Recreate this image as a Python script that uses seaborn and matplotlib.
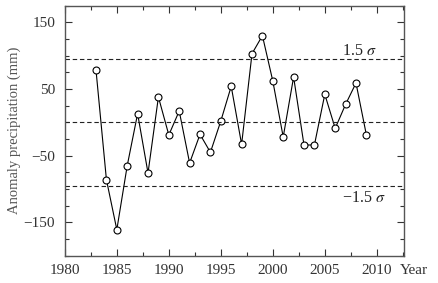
import numpy as np
import pandas as pd
import seaborn as sns
import matplotlib.pyplot as plt
from matplotlib.ticker import MultipleLocator, FixedLocator

years = list(range(1983, 2010))
anomaly = [78, -86, -161, -65, 13, -76, 38, -19, 17, -61, -18, -45, 2,
           54, -33, 103, 130, 62, -22, 68, -34, -34, 42, -9, 27, 59, -19]
sigma_lines = [95, 0, -95]
sigma_labels = ["1.5 $\\sigma$", "\u22121.5 $\\sigma$"]

df = pd.DataFrame({"year": years, "anomaly": anomaly})

sns.set_style("ticks")
plt.rcParams['font.family'] = ['Liberation Serif', 'DejaVu Serif']
plt.rcParams['mathtext.fontset'] = 'stix'

fig = plt.figure(figsize=(4.38, 2.83), dpi=100)
ax = fig.add_axes([0.148, 0.0965, 0.774, 0.8835])

sns.lineplot(data=df, x="year", y="anomaly", ax=ax, color="black", lw=0.8,
             marker="o", markersize=5, markerfacecolor="white",
             markeredgecolor="black", markeredgewidth=0.8)

for v in sigma_lines:
    ax.axhline(v, color="#222222", ls=(0, (4, 2.5)), lw=0.8)

ax.text(2006.7, 101, sigma_labels[0], fontsize=11.5, color="#222222")
ax.text(2006.7, -120, sigma_labels[1], fontsize=11.5, color="#222222")

ax.set_xlim(1980, 2012.6)
ax.set_ylim(-200, 175)
ax.xaxis.set_major_locator(MultipleLocator(5))
ax.xaxis.set_minor_locator(MultipleLocator(2.5))
ax.yaxis.set_major_locator(FixedLocator([-150, -50, 50, 150]))
ax.yaxis.set_minor_locator(MultipleLocator(25))
ax.set_xticks(range(1980, 2011, 5))

ax.tick_params(which="both", direction="in", top=True, right=True,
               labelsize=11, width=0.8, colors="#333333")
ax.tick_params(which="major", length=5)
ax.tick_params(which="minor", length=3)
ax.tick_params(axis="x", pad=6)
ax.tick_params(axis="y", pad=7)
for s in ax.spines.values():
    s.set_linewidth(1.0)
    s.set_color("#555555")

ax.set_xlabel("")
ax.set_ylabel("Anomaly precipitation (mm)", fontsize=10.5, color="#555555",
              labelpad=2)
ax.text(0.988, -0.058, "Year", transform=ax.transAxes, fontsize=11,
        va="center", ha="left", color="#333333")

fig.savefig("out.png", dpi=100)
